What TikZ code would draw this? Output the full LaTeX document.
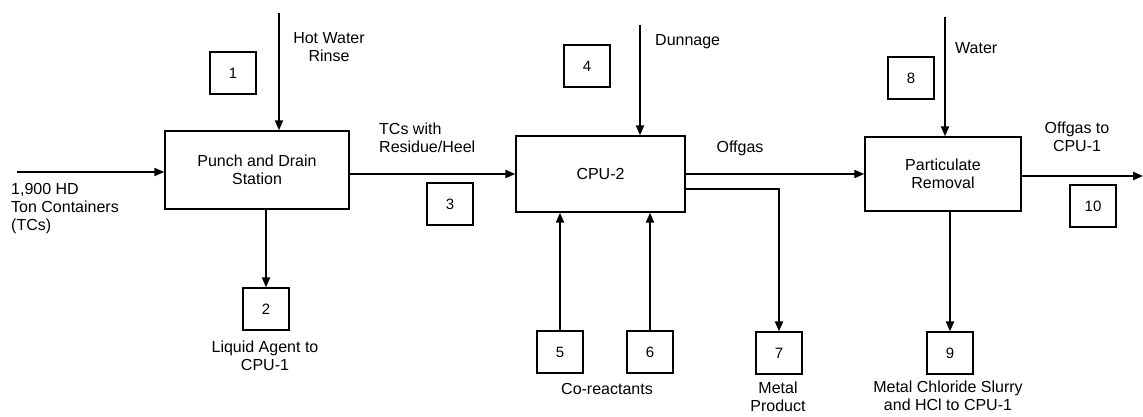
\documentclass[tikz,border=0pt]{standalone}
\usepackage{fontspec}
\setmainfont{Liberation Sans}
\usetikzlibrary{arrows.meta}
\begin{document}
\begin{tikzpicture}[x=1pt,y=-1pt,
  txt/.style={font=\fontsize{16}{18}\selectfont, inner sep=0pt, align=center},
  unit/.style={draw, line width=1.3pt, inner sep=0pt, txt},
  numbox/.style={draw, line width=1.2pt, minimum width=46pt, minimum height=42pt, inner sep=0pt, font=\fontsize{15}{18}\selectfont},
  flow/.style={line width=2pt, -{Triangle[length=10pt,width=8pt]}},
  pipe/.style={line width=2pt}]
\useasboundingbox (0,0) rectangle (1143,417);

% process units
\node[unit, minimum width=184pt, minimum height=78pt] (p) at (257,170) {Punch and Drain\\Station};
\node[unit, minimum width=169pt, minimum height=76pt] (c) at (600.5,174) {CPU-2};
\node[unit, minimum width=156pt, minimum height=74pt] (r) at (943,174) {Particulate\\Removal};

% stream number boxes
\node[numbox] (n1) at (233,73) {1};
\node[numbox] (n2) at (266,309) {2};
\node[numbox] (n3) at (450,204) {3};
\node[numbox] (n4) at (587,66) {4};
\node[numbox] (n5) at (560,352) {5};
\node[numbox] (n6) at (650,352) {6};
\node[numbox] (n7) at (779,353) {7};
\node[numbox] (n8) at (911,78) {8};
\node[numbox] (n9) at (950,353) {9};
\node[numbox] (n10) at (1093,206) {10};

% free ends of the feed and product lines
\coordinate (feed) at (17,172);
\coordinate (rinse) at (279,13);
\coordinate (dun) at (640,25);
\coordinate (wat) at (945,17);
\coordinate (out) at (1143,176);
\coordinate (cb) at (685,189);

% connectors
\draw[flow] (feed) -- (feed -| p.west);
\draw[flow] (rinse) -- (rinse |- p.north);
\draw[flow] (p.south -| n2) -- (n2.north);
\draw[flow] (p.east |- c.west) -- (c.west);
\draw[flow] (dun) -- (dun |- c.north);
\draw[flow] (n5.north) -- (n5 |- c.south);
\draw[flow] (n6.north) -- (n6 |- c.south);
\draw[flow] (c.east) -- (r.west);
\draw[flow] (cb) -| (n7.north);
\draw[flow] (wat) -- (wat |- r.north);
\draw[flow] (r.south -| n9) -- (n9.north);
\draw[flow] (r.east |- out) -- (out);

% stream labels
\node[txt] (l1) at (329,47) {Hot Water\\Rinse};
\node[txt, anchor=west] (l4) at (655,42) {Dunnage};
\node[txt, anchor=west] (l8) at (955,48) {Water};
\node[txt, anchor=west, align=left] (l3) at (379,138) {TCs with\\Residue/Heel};
\node[txt] (lo) at (740,148) {Offgas};
\node[txt] (l10) at (1077,137) {Offgas to\\CPU-1};
\node[txt, anchor=west, align=left] (lf) at (11,209) {1,900 HD\\Ton Containers\\(TCs)};
\node[txt] (l2) at (265,356) {Liquid Agent to\\CPU-1};
\node[txt] (l56) at (607,389) {Co-reactants};
\node[txt] (l7) at (778,397) {Metal\\Product};
\node[txt] (l9) at (948,396) {Metal Chloride Slurry\\and HCl to CPU-1};
\end{tikzpicture}
\end{document}
